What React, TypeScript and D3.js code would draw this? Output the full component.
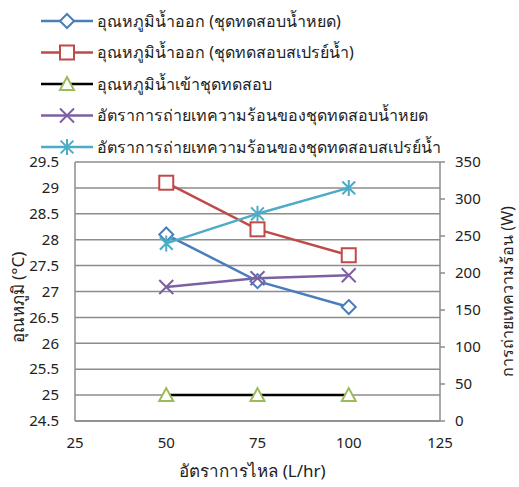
import React, { useEffect, useRef } from 'react';
import * as d3 from 'd3';

const flowRates = [50, 75, 100];
const outletDrip = [28.1, 27.2, 26.7];
const outletSpray = [29.1, 28.2, 27.7];
const inletTemp = [25, 25, 25];
const heatDrip = [181, 193, 197];
const heatSpray = [240, 280, 315];

const xTicks = [25, 50, 75, 100, 125];
const leftTicks = [24.5, 25, 25.5, 26, 26.5, 27, 27.5, 28, 28.5, 29, 29.5];
const rightTicks = [0, 50, 100, 150, 200, 250, 300, 350];

const seriesNames = [
    'อุณหภูมิน้ำออก (ชุดทดสอบน้ำหยด)',
    'อุณหภูมิน้ำออก (ชุดทดสอบสเปรย์น้ำ)',
    'อุณหภูมิน้ำเข้าชุดทดสอบ',
    'อัตราการถ่ายเทความร้อนของชุดทดสอบน้ำหยด',
    'อัตราการถ่ายเทความร้อนของชุดทดสอบสเปรย์น้ำ',
];

const FONT = '"Noto Sans", "DejaVu Sans", sans-serif';

const App: React.FC = () => {
    const svgRef = useRef<SVGSVGElement>(null);

    useEffect(() => {
        if (!svgRef.current) return;
        const svg = d3.select(svgRef.current);
        svg.selectAll('*').remove();

        const left = 75, right = 440, top = 162, bottom = 421;

        const x = d3.scaleLinear().domain([25, 125]).range([left, right]);
        const yL = d3.scaleLinear().domain([24.5, 29.5]).range([bottom, top]);
        const yR = d3.scaleLinear().domain([0, 350]).range([bottom, top]);

        const series = [
            { values: outletDrip, y: yL, line: '#4a7ebb', marker: 'diamond', mColor: '#4a7ebb' },
            { values: outletSpray, y: yL, line: '#be4b48', marker: 'square', mColor: '#be4b48' },
            { values: inletTemp, y: yL, line: '#000000', marker: 'triangle', mColor: '#9bbb59' },
            { values: heatDrip, y: yR, line: '#7d60a0', marker: 'x', mColor: '#7d60a0' },
            { values: heatSpray, y: yR, line: '#4bacc6', marker: 'star', mColor: '#4bacc6' },
        ];

        // Gridlines
        svg.append('g')
            .selectAll('line')
            .data(leftTicks)
            .join('line')
            .attr('x1', left)
            .attr('x2', right)
            .attr('y1', d => yL(d))
            .attr('y2', d => yL(d))
            .attr('stroke', '#8c8c8c')
            .attr('stroke-width', 1.5);

        // Axes lines
        const axisColor = '#8c8c8c';
        svg.append('line').attr('x1', left).attr('x2', left).attr('y1', top).attr('y2', bottom)
            .attr('stroke', axisColor).attr('stroke-width', 1.5);
        svg.append('line').attr('x1', right).attr('x2', right).attr('y1', top).attr('y2', bottom)
            .attr('stroke', axisColor).attr('stroke-width', 1.5);

        // Right axis ticks
        svg.append('g')
            .selectAll('line')
            .data(rightTicks)
            .join('line')
            .attr('x1', right)
            .attr('x2', right + 5)
            .attr('y1', d => yR(d))
            .attr('y2', d => yR(d))
            .attr('stroke', axisColor)
            .attr('stroke-width', 1.5);

        // Tick labels
        svg.append('g')
            .selectAll('text')
            .data(leftTicks)
            .join('text')
            .attr('x', 59)
            .attr('y', d => yL(d))
            .attr('dy', '0.35em')
            .attr('text-anchor', 'end')
            .attr('font-family', FONT)
            .attr('font-size', 15)
            .attr('fill', '#222')
            .text(d => String(d));

        svg.append('g')
            .selectAll('text')
            .data(rightTicks)
            .join('text')
            .attr('x', 455)
            .attr('y', d => yR(d))
            .attr('dy', '0.35em')
            .attr('font-family', FONT)
            .attr('font-size', 15)
            .attr('fill', '#222')
            .text(d => String(d));

        svg.append('g')
            .selectAll('text')
            .data(xTicks)
            .join('text')
            .attr('x', d => x(d))
            .attr('y', 443)
            .attr('dy', '0.35em')
            .attr('text-anchor', 'middle')
            .attr('font-family', FONT)
            .attr('font-size', 15)
            .attr('fill', '#222')
            .text(d => String(d));

        // Axis titles
        svg.append('text')
            .attr('transform', `translate(${(left + right) / 2 - 5},477)`)
            .attr('text-anchor', 'middle')
            .attr('font-family', FONT)
            .attr('font-size', 17)
            .attr('fill', '#222')
            .text('อัตราการไหล (L/hr)');

        svg.append('text')
            .attr('transform', `translate(24,${(top + bottom) / 2 + 6}) rotate(-90)`)
            .attr('text-anchor', 'middle')
            .attr('font-family', FONT)
            .attr('font-size', 17)
            .attr('fill', '#222')
            .text('อุณหภูมิ (°C)');

        svg.append('text')
            .attr('transform', `translate(513,${(top + bottom) / 2}) rotate(-90)`)
            .attr('text-anchor', 'middle')
            .attr('font-family', FONT)
            .attr('font-size', 16)
            .attr('fill', '#222')
            .text('การถ่ายเทความร้อน (W)');

        const drawMarker = (g: d3.Selection<SVGGElement, unknown, null, undefined>, kind: string, cx: number, cy: number, color: string) => {
            const s = 7;
            if (kind === 'diamond') {
                g.append('path').attr('d', `M${cx},${cy - s}L${cx + s},${cy}L${cx},${cy + s}L${cx - s},${cy}Z`)
                    .attr('fill', 'white').attr('stroke', color).attr('stroke-width', 2);
            } else if (kind === 'square') {
                g.append('rect').attr('x', cx - s).attr('y', cy - s).attr('width', 2 * s).attr('height', 2 * s)
                    .attr('fill', 'white').attr('stroke', color).attr('stroke-width', 2);
            } else if (kind === 'triangle') {
                g.append('path').attr('d', `M${cx},${cy - s}L${cx + s},${cy + 6}L${cx - s},${cy + 6}Z`)
                    .attr('fill', 'white').attr('stroke', color).attr('stroke-width', 2);
            } else if (kind === 'x') {
                g.append('path').attr('d', `M${cx - s},${cy - s}L${cx + s},${cy + s}M${cx - s},${cy + s}L${cx + s},${cy - s}`)
                    .attr('stroke', color).attr('stroke-width', 2);
            } else if (kind === 'star') {
                const r = 8;
                g.append('path').attr('d', `M${cx - r * 0.8},${cy - r * 0.8}L${cx + r * 0.8},${cy + r * 0.8}M${cx - r * 0.8},${cy + r * 0.8}L${cx + r * 0.8},${cy - r * 0.8}M${cx},${cy - r}L${cx},${cy + r}`)
                    .attr('stroke', color).attr('stroke-width', 2);
            }
        };

        // Series
        series.forEach(s => {
            const g = svg.append('g');
            const line = d3.line<number>()
                .x((_, i) => x(flowRates[i]))
                .y(d => s.y(d));
            g.append('path')
                .attr('d', line(s.values))
                .attr('fill', 'none')
                .attr('stroke', s.line)
                .attr('stroke-width', 2.5);
            s.values.forEach((v, i) => drawMarker(g, s.marker, x(flowRates[i]), s.y(v), s.mColor));
        });

        // Bottom axis drawn last so it sits over the inlet markers
        svg.append('line').attr('x1', left).attr('x2', right).attr('y1', bottom).attr('y2', bottom)
            .attr('stroke', axisColor).attr('stroke-width', 1.5);

        // Legend
        const legend = svg.append('g');
        series.forEach((s, i) => {
            const ly = 21 + i * 31.5;
            const g = legend.append('g');
            g.append('line').attr('x1', 41).attr('x2', 93).attr('y1', ly).attr('y2', ly)
                .attr('stroke', s.line).attr('stroke-width', 2.5);
            drawMarker(g, s.marker, 67, ly, s.mColor);
            g.append('text')
                .attr('x', 97)
                .attr('y', ly)
                .attr('dy', '0.35em')
                .attr('font-family', FONT)
                .attr('font-size', 16)
                .attr('fill', '#222')
                .text(seriesNames[i]);
        });
    }, []);

    return (
        <svg ref={svgRef} width={519} height={487} style={{ position: 'absolute', left: 0, top: 0, background: 'white' }} />
    );
};

export default App;
